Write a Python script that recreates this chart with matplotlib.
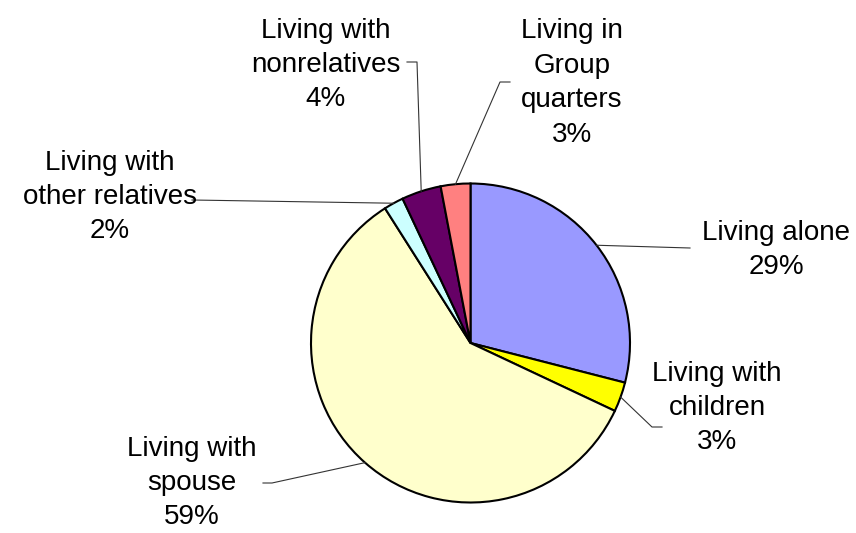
import numpy as np
import matplotlib
matplotlib.use("Agg")
import matplotlib.pyplot as plt

plt.rcParams['font.family'] = ['Liberation Sans', 'DejaVu Sans']

categories = ['Living alone', 'Living with\nchildren', 'Living with\nspouse',
              'Living with\nother relatives', 'Living with\nnonrelatives',
              'Living in\nGroup\nquarters']
values = [29, 3, 59, 2, 4, 3]
colors = ['#9999FF', '#FFFF00', '#FFFFCC', '#CCFFFF', '#660066', '#FF8080']

W, H = 856, 533
# label centres and leader line elbows, in pixel coords (y from top)
label_pos = [(776, 250), (717, 408), (192, 483), (110, 197), (326, 65), (572, 83)]
elbows = [[(690, 248)], [(652, 427), (662, 427)], [(272, 483), (263, 483)],
          [(192, 200)], [(417, 62), (407, 62)], [(500, 82), (510, 82)]]

cx, cy, r = 470.5, 343, 159.5

fig = plt.figure(figsize=(W / 100, H / 100), dpi=100)
ax = fig.add_axes([0, 0, 1, 1])

wedges, _ = ax.pie(values, colors=colors, startangle=90, counterclock=False,
                   center=(cx, H - cy), radius=r, frame=True,
                   wedgeprops=dict(edgecolor='black', linewidth=1.5))
ax.set_xlim(0, W)
ax.set_ylim(0, H)
ax.axis('off')

for w, v, cat, (lx, ly), pts in zip(wedges, values, categories, label_pos, elbows):
    mid = np.deg2rad((w.theta1 + w.theta2) / 2)
    sx, sy = cx + r * np.cos(mid), (H - cy) + r * np.sin(mid)
    xs = [sx] + [p[0] for p in pts]
    ys = [sy] + [H - p[1] for p in pts]
    ax.plot(xs, ys, color='#333333', linewidth=0.8, zorder=1)
    ax.text(lx, H - ly, f"{cat}\n{v}%", ha='center', va='center',
            fontsize=20, linespacing=1.42, color='black')

fig.savefig('out.png', dpi=100)
